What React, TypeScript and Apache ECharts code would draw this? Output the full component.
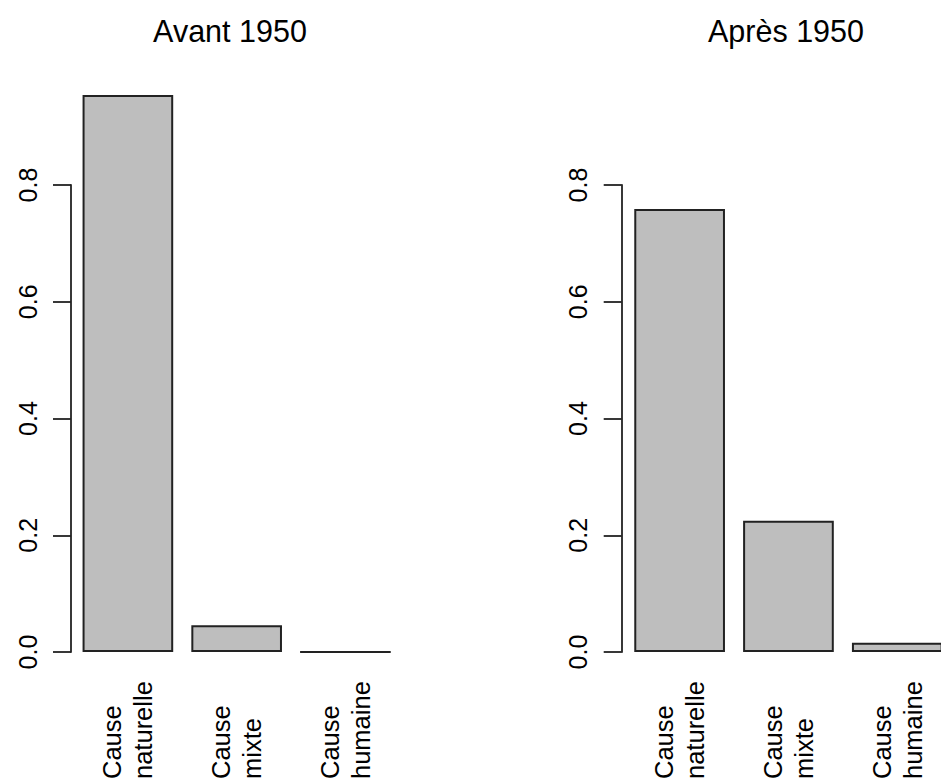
import React, { useEffect, useRef } from "react";
import * as echarts from "echarts";

const categories = ["Cause\nnaturelle", "Cause\nmixte", "Cause\nhumaine"];
const avant1950 = [0.954, 0.046, 0];
const apres1950 = [0.759, 0.225, 0.016];
const panelTitles = ["Avant 1950", "Après 1950"];
const yMin = 0;
const yMax = 0.8;
const yStep = 0.2;

const FONT = "Liberation Sans";

export default function App() {
  const ref = useRef<HTMLDivElement>(null);

  useEffect(() => {
    if (!ref.current) return;
    const chart = echarts.init(ref.current, null, { renderer: "svg" });

    const grids = [
      { left: 73.5, top: 185, width: 326.3, bottom: 130 },
      { left: 625.2, top: 185, width: 326.5, bottom: 130 },
    ];
    const offsets = [2.5, 3.5];
    const seriesData = [avant1950, apres1950];
    const titleX = [230, 786];

    const option: any = {
      animation: false,
      backgroundColor: "#ffffff",
      textStyle: { fontFamily: FONT },
      grid: grids.map((g) => ({ ...g, containLabel: false })),
      xAxis: grids.map((_, i) => ({
        type: "category",
        gridIndex: i,
        data: categories,
        axisLine: { show: false },
        axisTick: { show: false },
        splitLine: { show: false },
        axisLabel: {
          interval: 0,
          rotate: 90,
          align: "left",
          margin: 127,
          fontSize: 25.5,
          lineHeight: 31,
          color: "#000",
          fontFamily: FONT,
        },
      })),
      yAxis: grids.map((_, i) => ({
        type: "value",
        gridIndex: i,
        min: yMin,
        max: yMax,
        interval: yStep,
        offset: offsets[i],
        axisLine: { show: true, lineStyle: { color: "#222", width: 1.8 } },
        axisTick: { show: true, length: 18, lineStyle: { color: "#222", width: 1.8 } },
        splitLine: { show: false },
        axisLabel: {
          rotate: 90,
          margin: 31,
          fontSize: 25,
          color: "#000",
          fontFamily: FONT,
          formatter: (v: number) => v.toFixed(1),
        },
      })),
      series: seriesData.map((d, i) => ({
        type: "bar",
        xAxisIndex: i,
        yAxisIndex: i,
        data: d,
        clip: false,
        barCategoryGap: "16.667%",
        itemStyle: { color: "#bebebe", borderColor: "#222", borderWidth: 2 },
        emphasis: { disabled: true },
      })),
      graphic: panelTitles.map((t, i) => ({
        type: "text",
        x: titleX[i],
        y: 31,
        style: {
          text: t,
          fontSize: 30.5,
          fontFamily: FONT,
          fill: "#000",
          textAlign: "center",
          textVerticalAlign: "middle",
        },
      })),
    };

    chart.setOption(option);
    return () => chart.dispose();
  }, []);

  return (
    <div
      style={{
        position: "absolute",
        left: 0,
        top: 0,
        width: 941,
        height: 782,
        overflow: "hidden",
        background: "#fff",
      }}
    >
      <div ref={ref} style={{ width: 980, height: 782 }} />
    </div>
  );
}
